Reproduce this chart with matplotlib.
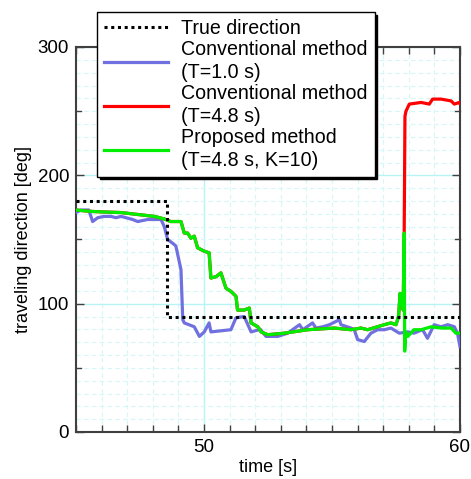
import matplotlib.pyplot as plt
from matplotlib.ticker import MultipleLocator

plt.rcParams['font.family'] = ['Liberation Sans', 'DejaVu Sans']

# true direction
true_t = [45.0, 48.55, 48.55, 60.0]
true_deg = [180, 180, 90, 90]

# conventional method (T=1.0 s)
blue_t = [45.0, 45.2, 45.5, 45.65, 45.85, 46.1, 46.37, 46.56, 46.76, 46.95, 47.21, 47.41,
          47.8, 48.06, 48.32, 48.45, 48.58, 48.78, 48.9, 49.1, 49.17, 49.23, 49.62, 49.82,
          50.01, 50.2, 50.27, 51.05, 51.25, 51.57, 51.84, 52.2, 52.42, 52.88, 53.27, 53.73,
          53.86, 54.24, 54.37, 54.64, 54.9, 55.29, 55.35, 55.74, 55.87, 56.0, 56.26, 56.52,
          56.78, 57.04, 57.3, 57.63, 57.96, 58.2, 58.54, 58.73, 58.99, 59.26, 59.52, 59.78,
          59.9, 60.0]
blue_deg = [171, 173, 173, 164, 167, 168, 168, 167, 168, 167, 165.6, 164,
            165.6, 165.6, 165.6, 160, 150, 147, 145, 126.6, 87.5, 85, 82, 74.5,
            78, 85, 78, 79.7, 89, 90, 78, 80, 74.5, 74.5, 77, 83.6,
            79.7, 85, 81, 82, 83.6, 87.5, 83.6, 81, 79.7, 72, 70.5, 77,
            79.7, 79.7, 81, 77, 78, 77, 79.7, 73, 83.6, 82, 83.6, 82,
            77, 66.6]

# proposed method (T=4.8 s, K=10)
green_t = [45.0, 45.5, 46.0, 46.76, 47.41, 48.06, 48.45, 48.7, 49.1, 49.23, 49.36, 49.49,
           49.62, 49.75, 50.0, 50.2, 50.27, 50.47, 50.66, 50.86, 51.05, 51.25, 51.31, 51.57,
           51.77, 51.84, 52.1, 52.23, 52.49, 53.14, 54.05, 55.09, 55.74, 56.13, 56.39, 57.04,
           57.3, 57.5, 57.6, 57.66, 57.7, 57.74, 57.78, 57.82, 57.84, 57.88, 57.96, 58.2,
           58.48, 58.87, 59.26, 59.65, 59.84, 60.0]
green_deg = [173, 172, 171.5, 171, 169.5, 168, 166, 164, 164, 155, 155, 151,
             152.6, 143.5, 141, 139.6, 120, 121, 124, 112, 109.6, 105.7, 95, 95,
             96.6, 85, 82, 78, 75.8, 77, 79.7, 81, 79.7, 81, 79.7, 83.6,
             85, 83.6, 90, 108, 100, 108, 95, 155, 63, 78, 74.5, 79.7,
             79.7, 82, 81, 81, 77, 77]

# conventional method (T=4.8 s): same as proposed until the jump
red_split = 44
red_tail_t = [57.85, 57.89, 58.02, 58.48, 58.8, 58.93, 59.26, 59.65, 59.78, 59.97, 60.0]
red_tail_deg = [246, 250, 255.5, 256.8, 255.5, 259.4, 259.4, 258, 255.5, 256.8, 256]
red_t = green_t[:red_split] + red_tail_t
red_deg = green_deg[:red_split] + red_tail_deg

fig = plt.figure(figsize=(4.71, 4.79), dpi=100)
ax = fig.add_axes([76 / 471, 1 - 432 / 479, 384 / 471, 385 / 479])

l_true, = ax.plot(true_t, true_deg, color='black', ls=(0, (1, 1.2)), lw=2.2, zorder=5)
l_blue, = ax.plot(blue_t, blue_deg, color='#7070e0', lw=2.3, zorder=3)
l_red, = ax.plot(red_t, red_deg, color='#ff0000', lw=2.3, zorder=3.5)
l_green, = ax.plot(green_t, green_deg, color='#00ee00', lw=2.3, zorder=4)

ax.set_xlim(45, 60)
ax.set_ylim(0, 300)
ax.xaxis.set_major_locator(MultipleLocator(5))
ax.xaxis.set_minor_locator(MultipleLocator(1))
ax.yaxis.set_major_locator(MultipleLocator(100))
ax.yaxis.set_minor_locator(MultipleLocator(10))
ax.set_xticks([50, 60])

ax.grid(True, which='major', color='#b8f4f4', lw=1.0, ls='-', zorder=0)
ax.grid(True, which='minor', color='#d4f8f8', lw=0.8, ls=(0, (4, 3)), zorder=0)
ax.set_axisbelow(True)

ax.tick_params(which='both', direction='in', top=True, right=True, color='#404040')
ax.tick_params(which='major', length=6, width=1, labelsize=13.5, pad=5)
ax.tick_params(axis='x', which='minor', length=5, width=1)
ax.tick_params(axis='y', which='minor', length=0)
# y tick marks at 50, 150, 250 without grid
for yv in [50, 150, 250]:
    ax.plot([45, 45.2], [yv, yv], color='#404040', lw=1, clip_on=False, zorder=6)
    ax.plot([59.8, 60], [yv, yv], color='#404040', lw=1, clip_on=False, zorder=6)
for s in ax.spines.values():
    s.set_color('#404040')
    s.set_linewidth(1.5)

ax.set_xlabel('time [s]', fontsize=13, labelpad=2)
ax.set_ylabel('traveling direction [deg]', fontsize=13, labelpad=4)

leg = fig.legend([l_true, l_blue, l_red, l_green],
                 ['True direction', 'Conventional method\n(T=1.0 s)',
                  'Conventional method\n(T=4.8 s)', 'Proposed method\n(T=4.8 s, K=10)'],
                 loc='upper left', bbox_to_anchor=(97 / 471, 1 - 12 / 479),
                 borderaxespad=0, fontsize=14.1, fancybox=False, framealpha=1,
                 edgecolor='black', shadow={'color': 'black', 'alpha': 1},
                 handlelength=3.3, handletextpad=0.65, labelspacing=0.12,
                 borderpad=0.35)
leg.get_frame().set_linewidth(1.0)
for t in leg.get_texts():
    t.set_linespacing(1.24)

fig.savefig('out.png', dpi=100)
